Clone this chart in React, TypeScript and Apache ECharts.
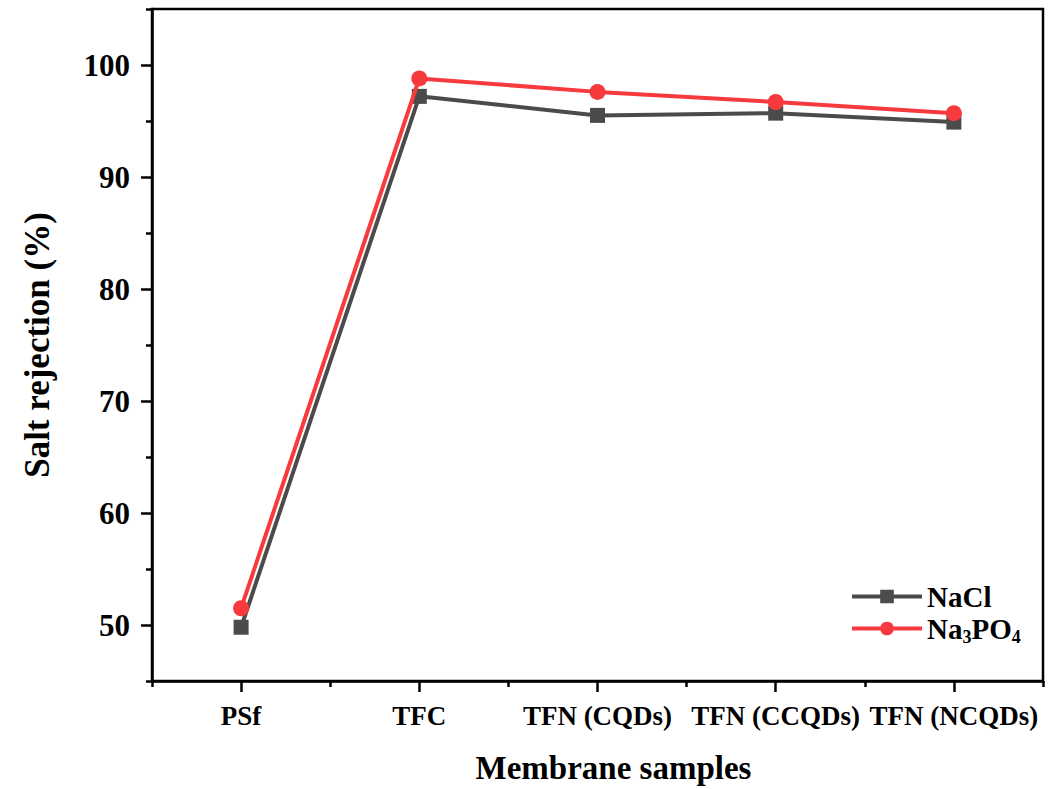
import React, { useEffect, useRef } from "react";
import * as echarts from "echarts";

const categories = ["PSf", "TFC", "TFN (CQDs)", "TFN (CCQDs)", "TFN (NCQDs)"];
const naclValues = [49.8, 97.2, 95.5, 95.7, 94.9];
const na3po4Values = [51.5, 98.8, 97.6, 96.7, 95.7];
const yLabelValues = [50, 60, 70, 80, 90, 100];
const yMinorTickValues = [45, 55, 65, 75, 85, 95, 105];

const FONT = "'Liberation Serif', 'Times New Roman', serif";

export default function App() {
  const ref = useRef<HTMLDivElement>(null);
  useEffect(() => {
    if (!ref.current) return;
    const chart = echarts.init(ref.current, undefined, { renderer: "svg" });
    chart.setOption({
      animation: false,
      backgroundColor: "#ffffff",
      grid: {
        left: 152,
        right: 5,
        top: 9,
        bottom: 105,
        show: true,
        borderColor: "#000",
        borderWidth: 2.5,
      },
      legend: {
        orient: "vertical",
        left: 850,
        top: 582,
        padding: 0,
        itemWidth: 70,
        itemHeight: 17,
        itemGap: 3,
        data: ["NaCl", "Na3PO4"],
        lineStyle: { width: 4 },
        formatter: (name: string) =>
          name === "Na3PO4" ? "{n|Na}{s|3}{n|PO}{s|4}" : "{n|NaCl}",
        textStyle: {
          fontFamily: FONT,
          fontWeight: "bold",
          fontSize: 29,
          color: "#000",
          rich: {
            n: { fontFamily: FONT, fontWeight: "bold", fontSize: 29, lineHeight: 34, color: "#000" },
            s: {
              fontFamily: FONT,
              fontWeight: "bold",
              fontSize: 18,
              lineHeight: 14,
              verticalAlign: "bottom",
              color: "#000",
            },
          },
        },
      },
      xAxis: [
        {
          type: "category",
          data: categories,
          boundaryGap: true,
          position: "bottom",
          name: "Membrane samples",
          nameLocation: "middle",
          nameGap: 70,
          nameTextStyle: {
            fontFamily: FONT,
            fontWeight: "bold",
            fontSize: 33,
            color: "#000",
            padding: [0, 0, 0, 32],
          },
          axisLine: { show: true, lineStyle: { color: "#000", width: 2.5 } },
          axisTick: { show: true, alignWithLabel: true, length: 11, lineStyle: { color: "#000", width: 2.5 } },
          axisLabel: {
            fontFamily: FONT,
            fontWeight: "bold",
            fontSize: 27,
            color: "#000",
            margin: 21,
            interval: 0,
          },
          splitLine: { show: false },
        },
        {
          type: "category",
          data: categories,
          boundaryGap: true,
          position: "bottom",
          axisLine: { show: false },
          axisTick: { show: true, alignWithLabel: false, length: 6, lineStyle: { color: "#000", width: 2.5 } },
          axisLabel: { show: false },
          splitLine: { show: false },
        },
      ],
      yAxis: [
        {
          type: "value",
          min: 45,
          max: 105,
          interval: 5,
          position: "left",
          name: "Salt rejection (%)",
          nameLocation: "middle",
          nameGap: 97,
          nameTextStyle: { fontFamily: FONT, fontWeight: "bold", fontSize: 35, color: "#000" },
          axisLine: { show: true, lineStyle: { color: "#000", width: 2.5 } },
          axisTick: {
            show: true,
            length: 11,
            customValues: yLabelValues,
            lineStyle: { color: "#000", width: 2.5 },
          },
          axisLabel: {
            fontFamily: FONT,
            fontWeight: "bold",
            fontSize: 31,
            color: "#000",
            margin: 22,
            customValues: yLabelValues,
          },
          splitLine: { show: false },
        },
        {
          type: "value",
          min: 45,
          max: 105,
          interval: 5,
          position: "left",
          axisLine: { show: false },
          axisTick: {
            show: true,
            length: 6,
            customValues: yMinorTickValues,
            lineStyle: { color: "#000", width: 2.5 },
          },
          axisLabel: { show: false },
          splitLine: { show: false },
        },
      ],
      series: [
        {
          name: "NaCl",
          type: "line",
          xAxisIndex: 0,
          yAxisIndex: 0,
          data: naclValues,
          symbol: "rect",
          symbolSize: 15,
          lineStyle: { color: "#4b4b4b", width: 4 },
          itemStyle: { color: "#4b4b4b" },
          z: 2,
        },
        {
          name: "Na3PO4",
          type: "line",
          xAxisIndex: 0,
          yAxisIndex: 0,
          data: na3po4Values,
          symbol: "circle",
          symbolSize: 16,
          lineStyle: { color: "#f63a3e", width: 4 },
          itemStyle: { color: "#f63a3e" },
          z: 3,
        },
      ],
    });
    return () => chart.dispose();
  }, []);
  return <div ref={ref} style={{ width: 1048, height: 789, position: "absolute", left: 0, top: 0 }} />;
}
